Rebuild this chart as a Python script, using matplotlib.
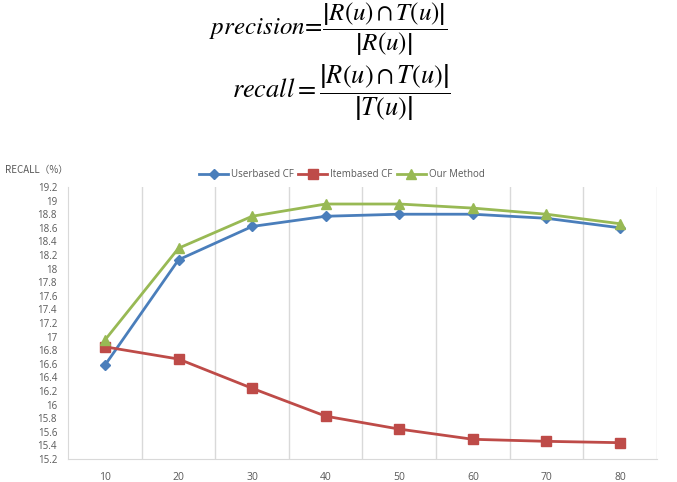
import matplotlib.pyplot as plt
import numpy as np

plt.rcParams['font.family'] = ['Open Sans', 'DejaVu Sans']
plt.rcParams['mathtext.fontset'] = 'stix'

categories = ['10', '20', '30', '40', '50', '60', '70', '80']
userbased = [16.58, 18.13, 18.62, 18.77, 18.80, 18.80, 18.74, 18.60]
itembased = [16.85, 16.67, 16.24, 15.83, 15.64, 15.49, 15.46, 15.44]
our_method = [16.95, 18.30, 18.77, 18.95, 18.95, 18.89, 18.80, 18.66]
y_ticks = [15.2 + 0.2 * i for i in range(21)]

fig = plt.figure(figsize=(6.77, 4.82), dpi=100)

# formulas above the chart
fig.text(0.485, 0.940, r'$\mathit{precision}\!=\!\dfrac{\left|R(u)\cap T(u)\right|}{\left|R(u)\right|}$',
         ha='center', va='center', fontsize=18)
fig.text(0.505, 0.808, r'$\mathit{recall}=\dfrac{\left|R(u)\cap T(u)\right|}{\left|T(u)\right|}$',
         ha='center', va='center', fontsize=19)

ax = fig.add_axes([0.1007, 0.0477, 0.8695, 0.5643])
x = np.arange(len(categories))
ax.plot(x, userbased, color='#4A7EBB', lw=2, marker='D', ms=5, label='Userbased CF')
ax.plot(x, itembased, color='#BE4B48', lw=2, marker='s', ms=7, label='Itembased CF')
ax.plot(x, our_method, color='#98B954', lw=2, marker='^', ms=7, label='Our Method')

ax.set_xlim(-0.5, len(categories) - 0.5)
ax.set_ylim(15.2, 19.2)
ax.set_xticks(x)
ax.set_xticklabels(categories)
ax.set_xticks(np.arange(0.5, len(categories), 1), minor=True)
ax.grid(True, which='minor', axis='x', color='#D9D9D9', lw=1)
ax.set_yticks(y_ticks)
ax.set_yticklabels(['%g' % round(v, 1) for v in y_ticks])
ax.tick_params(which='both', length=0)
ax.tick_params(axis='y', labelsize=7, labelcolor='#595959', pad=8)
ax.tick_params(axis='x', labelsize=7.5, labelcolor='#595959', pad=9)
for s in ['top', 'right']:
  ax.spines[s].set_visible(False)
for s in ['left', 'bottom']:
  ax.spines[s].set_color('#D9D9D9')

fig.text(0.007, 0.647, 'RECALL（%）', fontsize=7, color='#595959',
         family=['Noto Sans CJK SC', 'DejaVu Sans'], va='center')

fig.legend(loc='center', bbox_to_anchor=(0.505, 0.638), ncol=3, frameon=False,
           fontsize=7, labelcolor='#595959', handlelength=3, columnspacing=0.4,
           handletextpad=0.3)

fig.savefig('out.png', dpi=100)
